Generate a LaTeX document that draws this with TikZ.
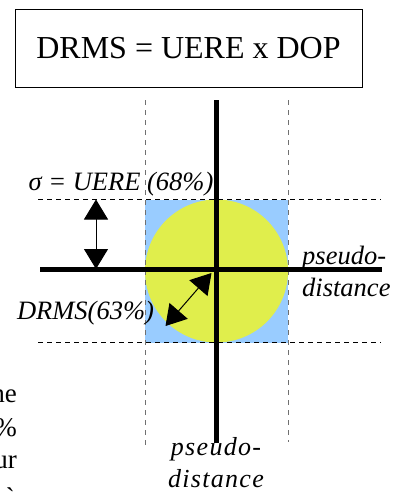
\documentclass[tikz,border=0pt]{standalone}
\usepackage{fontspec}
\setmainfont{Liberation Serif}
\usetikzlibrary{arrows.meta}
\definecolor{Sky}{HTML}{99CCFF}
\definecolor{Lime}{HTML}{E0EE4C}
\definecolor{Guide}{HTML}{707070}

\begin{document}
\begin{tikzpicture}[x=1pt,y=-1pt,every node/.style={inner sep=0pt},axis/.style={draw=black,line width=4.5pt},guide/.style={draw=Guide,line width=0.9pt,dash pattern=on 5pt off 5pt},level/.style={draw=black,line width=0.9pt,dash pattern=on 5pt off 4pt},span/.style={draw=black,line width=1pt,{Triangle[width=24pt,length=20pt]}-{Triangle[width=24pt,length=20pt]}},lab/.style={font=\fontsize{26.5}{32}\selectfont\itshape}]
\clip (0,0) rectangle (399,493);
\useasboundingbox (0,0) rectangle (399,493);
\node[draw,line width=0.9pt,minimum width=347pt,minimum height=78pt,font=\fontsize{32}{34}\selectfont] (title) at (188.5,48.5) {DRMS = UERE x DOP};

% area of uncertainty
\fill[Sky] (145,199.5) rectangle (288,342.5);
\fill[Lime] (216.5,271) circle (71.5);
\coordinate (c) at (216.5,271);

\draw[guide] (145,100) -- (145,447);
\draw[guide] (288,100) -- (288,442);
\draw[level] (38,199.5) -- (381,199.5);
\draw[level] (38,342.5) -- (381,342.5);

\coordinate (vtop) at (216.5,100);
\coordinate (vbot) at (216.5,443);
\coordinate (hleft) at (40,269.5);
\coordinate (hright) at (382,269.5);
\draw[axis] (vtop) -- (vbot);
\draw[axis] (hleft) -- (hright);

\coordinate (sa) at (96,199.5);
\coordinate (sb) at (96,269);
\draw[span] (sa) -- (sb);
\coordinate (da) at (211.5,273);
\coordinate (db) at (165.5,326);
\draw[span] (da) -- (db);

\node[lab] (sigma) at (121,184) {σ = UERE (68\%)};
\node[lab] (drms) at (85.5,313) {DRMS(63\%)};
\node[lab,anchor=west,align=left] (px) at (302,271) {pseudo-\\distance};
\node[lab,align=center,font=\fontsize{26}{32}\selectfont\itshape\addfontfeatures{LetterSpace=5}] (py) at (216,463) {pseudo-\\distance};

% cut off text at the left edge
\foreach \t/\y in {the/393,\%/428,our/462,à/497}{\node[anchor=east,font=\fontsize{27}{30}\selectfont] at (17,\y) {\t};}
\end{tikzpicture}
\end{document}
